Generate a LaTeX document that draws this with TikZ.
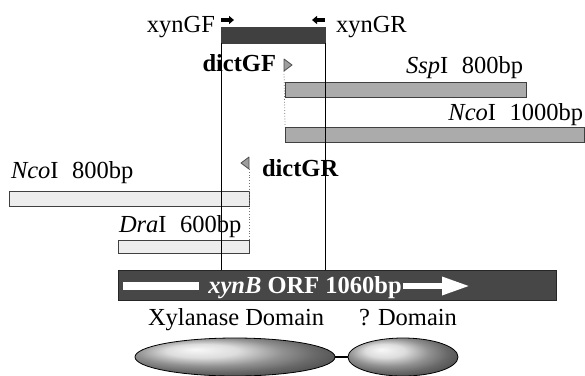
\documentclass[tikz,border=0pt]{standalone}
\usepackage{fontspec}
\setmainfont{Liberation Serif}
\usetikzlibrary{shapes.geometric,arrows.meta}
\begin{document}
\begin{tikzpicture}[x=1pt,y=-1pt,
  txt/.style={font=\fontsize{24.5}{28}\selectfont, inner sep=0pt, outer sep=0pt},
  boldtxt/.style={txt, font=\fontsize{24.5}{28}\selectfont\bfseries},
  bar/.style={draw=black!75, line width=0.9pt, inner sep=0pt, outer sep=0pt, anchor=north west},
  darkbar/.style={bar, fill=black!75},
  midbar/.style={bar, fill=black!33},
  lightbar/.style={bar, fill=black!7},
  orfbar/.style={bar, draw=black!85, fill=black!72},
  guide/.style={draw=black, line width=0.7pt},
  dotguide/.style={draw=black!55, dotted, line width=0.8pt},
  primer/.style={draw=black!70, fill=black!38, line width=0.8pt, line join=round},
  minarrow/.style={line width=3.6pt, -{Triangle[length=5pt,width=8pt]}},
  domblob/.style={ellipse, draw=black, line width=0.8pt, inner sep=0pt, shade, ball color=black!18}
]
\useasboundingbox (0,0) rectangle (585,375);

% bars
\node[darkbar, minimum width=104pt, minimum height=16pt] (pcr) at (221,27) {};
\node[midbar, minimum width=241pt, minimum height=15pt] (ssp) at (285,82) {};
\node[midbar, minimum width=299pt, minimum height=15pt] (ncoA) at (285,127) {};
\node[lightbar, minimum width=240pt, minimum height=15pt] (ncoB) at (9,191) {};
\node[lightbar, minimum width=131pt, minimum height=13pt] (dra) at (118,240) {};
\node[orfbar, minimum width=438pt, minimum height=30pt] (orf) at (118,270) {};

% guide lines
\draw[guide] (pcr.south west) -- (pcr.south west |- orf.north);
\draw[guide] (pcr.south east) -- (pcr.south east |- orf.north);

% primer labels
\node[txt, anchor=base east] (gfl) at (215,32) {xynGF};
\node[txt, anchor=base west] (grl) at (336,32) {xynGR};
\draw[minarrow] (221,20) -- (234,20);
\draw[minarrow] (325,20) -- (312,20);

\node[boldtxt, anchor=base east] (dgf) at (276,71) {dictGF};
\node[boldtxt, anchor=base west] (dgr) at (262,176) {dictGR};
\filldraw[primer] (284,59) -- (292,65) -- (284,71) -- cycle;
\coordinate (gft) at (284,71);
\filldraw[primer] (249,157) -- (241,163) -- (249,169) -- cycle;
\coordinate (grt) at (249,169);
\draw[dotguide] (gft) -- (ncoA.north west);
\draw[dotguide] (grt) -- (dra.north east);

% fragment labels
\node[txt, anchor=base east] (sspl) at (523,73) {\textit{Ssp}I\hspace{0.55em}800bp};
\node[txt, anchor=base east] (ncoAl) at (583,120) {\textit{Nco}I\hspace{0.55em}1000bp};
\node[txt, anchor=base west] (ncoBl) at (11,178) {\textit{Nco}I\hspace{0.55em}800bp};
\node[txt, anchor=base west] (dral) at (119,232) {\textit{Dra}I\hspace{0.55em}600bp};

% ORF contents
\fill[white] (123,282) rectangle (199,290);
\draw[white, line width=6pt, -{Triangle[length=28pt,width=17pt]}] (403,286) -- (470,286);
\node[boldtxt, text=white, anchor=base] (orfl) at (305,293) {\textit{xynB} ORF 1060bp};

% domains
\node[txt, anchor=base west] (xdl) at (148,325) {Xylanase Domain};
\node[txt, anchor=base west] (qdl) at (359,325) {? Domain};
\node[domblob, minimum width=200pt, minimum height=38pt] (e1) at (235,357) {};
\node[domblob, minimum width=110pt, minimum height=38pt] (e2) at (403,357) {};
\draw[line width=2pt] (e1.east) -- (e2.west);
\end{tikzpicture}
\end{document}
